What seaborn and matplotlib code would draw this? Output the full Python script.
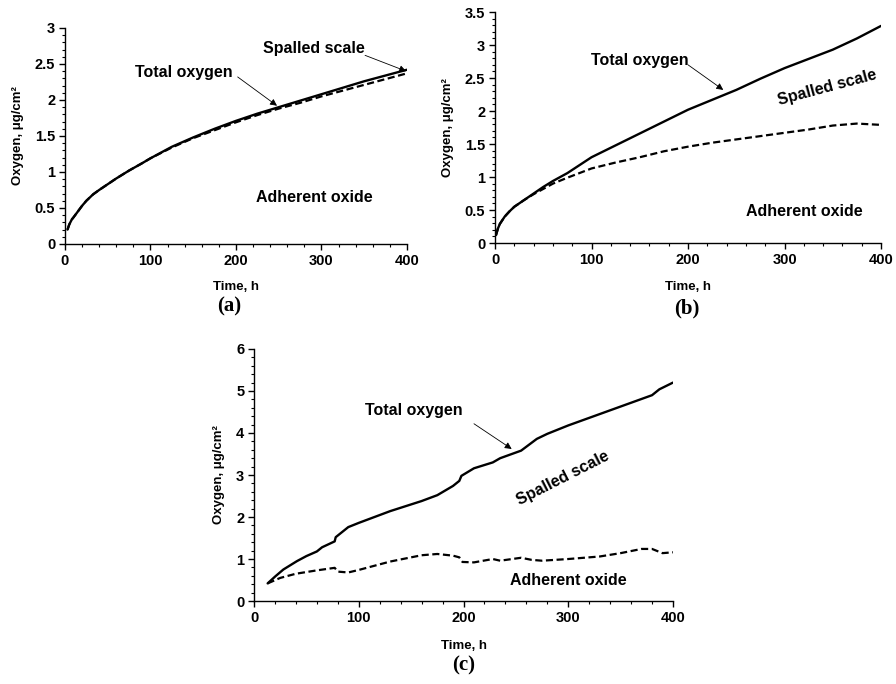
import matplotlib
matplotlib.use("Agg")
import matplotlib.pyplot as plt
import seaborn as sns
import pandas as pd
from matplotlib.ticker import MultipleLocator

sns.set_theme(style="ticks")
plt.rcParams['font.family'] = ['Liberation Sans', 'DejaVu Sans']
plt.rcParams['font.weight'] = 'bold'
plt.rcParams['text.color'] = 'black'
plt.rcParams['axes.labelcolor'] = 'black'
plt.rcParams['xtick.color'] = 'black'
plt.rcParams['ytick.color'] = 'black'

# ---- panel (a) ----
a_time = [3, 5, 8, 10, 15, 20, 25, 33, 40, 50, 60, 75, 90, 100, 125, 150, 175, 200, 225, 250, 275, 300, 325, 350, 375, 400]
a_total = [0.20, 0.27, 0.34, 0.37, 0.45, 0.53, 0.60, 0.69, 0.75, 0.83, 0.91, 1.02, 1.12, 1.19, 1.35, 1.48, 1.60, 1.71, 1.81, 1.90, 1.99, 2.08, 2.17, 2.26, 2.34, 2.42]
a_adherent = [0.20, 0.27, 0.34, 0.37, 0.45, 0.53, 0.60, 0.69, 0.75, 0.83, 0.91, 1.02, 1.12, 1.19, 1.34, 1.47, 1.58, 1.69, 1.79, 1.88, 1.96, 2.05, 2.13, 2.21, 2.29, 2.37]

# ---- panel (b) ----
b_time = [1, 3, 5, 10, 15, 20, 30, 40, 50, 60, 75, 100, 125, 150, 175, 200, 225, 250, 275, 300, 325, 350, 375, 400]
b_total = [0.12, 0.22, 0.29, 0.40, 0.48, 0.55, 0.65, 0.75, 0.85, 0.94, 1.06, 1.30, 1.48, 1.66, 1.84, 2.02, 2.17, 2.32, 2.49, 2.65, 2.79, 2.93, 3.10, 3.29]
b_adherent = [0.12, 0.22, 0.29, 0.40, 0.48, 0.55, 0.65, 0.74, 0.82, 0.90, 0.99, 1.13, 1.22, 1.30, 1.39, 1.46, 1.52, 1.57, 1.62, 1.67, 1.72, 1.78, 1.81, 1.79]

# ---- panel (c) ----
c_time_total = [13, 20, 28, 41, 50, 60, 65, 77, 78, 90, 100, 130, 160, 175, 190, 196, 198, 210, 228, 235, 255, 270, 280, 300, 340, 380, 387, 400]
c_total = [0.42, 0.58, 0.75, 0.95, 1.07, 1.18, 1.28, 1.42, 1.52, 1.76, 1.86, 2.14, 2.38, 2.52, 2.74, 2.86, 2.98, 3.16, 3.30, 3.40, 3.58, 3.86, 3.98, 4.18, 4.54, 4.90, 5.04, 5.20]
c_time_adh = [13, 25, 40, 60, 77, 80, 90, 100, 130, 160, 175, 190, 196, 199, 210, 228, 235, 255, 265, 275, 300, 330, 350, 370, 380, 390, 400]
c_adherent = [0.42, 0.55, 0.65, 0.73, 0.79, 0.70, 0.68, 0.74, 0.94, 1.09, 1.12, 1.08, 1.04, 0.93, 0.92, 1.00, 0.96, 1.03, 0.98, 0.96, 1.00, 1.06, 1.14, 1.24, 1.24, 1.14, 1.16]

panel_labels = ["(a)", "(b)", "(c)"]
x_label = "Time, h"
y_label = "Oxygen, μg/cm²"

fig = plt.figure(figsize=(8.96, 6.84), dpi=100)
ax_a = fig.add_axes([0.0725, 0.6433, 0.3817, 0.3158])
ax_b = fig.add_axes([0.5525, 0.6447, 0.4308, 0.3377])
ax_c = fig.add_axes([0.2835, 0.1213, 0.4676, 0.3685])

def draw(ax, t_tot, tot, t_adh, adh, xpad):
    df1 = pd.DataFrame({"t": t_tot, "v": tot})
    df2 = pd.DataFrame({"t": t_adh, "v": adh})
    sns.lineplot(data=df2, x="t", y="v", ax=ax, color="black", lw=1.6,
                 linestyle=(0, (3.2, 1.6)))
    sns.lineplot(data=df1, x="t", y="v", ax=ax, color="black", lw=1.7)
    sns.despine(ax=ax)
    for s in ["left", "bottom"]:
        ax.spines[s].set_color("black")
        ax.spines[s].set_linewidth(1.0)
    ax.set_xlim(0, 400)
    ax.xaxis.set_major_locator(MultipleLocator(100))
    ax.xaxis.set_minor_locator(MultipleLocator(20))
    ax.tick_params(which="major", direction="out", length=4, width=1, colors="black",
                   labelsize=10.5, pad=3)
    ax.tick_params(which="minor", direction="out", length=2.5, width=0.8, colors="black")
    for lbl in ax.get_xticklabels() + ax.get_yticklabels():
        lbl.set_fontweight("bold")
    ax.set_xlabel(x_label, fontsize=9.5, fontweight="bold", labelpad=xpad)
    ax.set_ylabel(y_label, fontsize=9.5, fontweight="bold", labelpad=8)
    ax.set_facecolor("white")

arrow = dict(arrowstyle="-|>", color="black", lw=0.6, mutation_scale=10, shrinkA=0, shrinkB=0)
tfs = 11.5

# (a)
draw(ax_a, a_time, a_total, a_time, a_adherent, 9.5)
ax_a.set_ylim(0, 3)
ax_a.yaxis.set_minor_locator(MultipleLocator(0.1))
ax_a.set_yticks([0, 0.5, 1, 1.5, 2, 2.5, 3], ["0", "0.5", "1", "1.5", "2", "2.5", "3"], fontweight="bold")
ax_a.text(139, 2.375, "Total oxygen", ha="center", va="center", fontsize=tfs, fontweight="bold")
ax_a.annotate("", xy=(248, 1.92), xytext=(202, 2.32), arrowprops=arrow)
ax_a.text(291, 2.72, "Spalled scale", ha="center", va="center", fontsize=tfs, fontweight="bold")
ax_a.annotate("", xy=(399, 2.40), xytext=(351, 2.62), arrowprops=arrow)
ax_a.text(292, 0.64, "Adherent oxide", ha="center", va="center", fontsize=tfs, fontweight="bold")

# (b)
draw(ax_b, b_time, b_total, b_time, b_adherent, 10)
ax_b.set_ylim(0, 3.5)
ax_b.yaxis.set_minor_locator(MultipleLocator(0.1))
ax_b.set_yticks([0, 0.5, 1, 1.5, 2, 2.5, 3, 3.5], ["0", "0.5", "1", "1.5", "2", "2.5", "3", "3.5"], fontweight="bold")
ax_b.text(150, 2.76, "Total oxygen", ha="center", va="center", fontsize=tfs, fontweight="bold")
ax_b.annotate("", xy=(236.5, 2.32), xytext=(200, 2.70), arrowprops=arrow)
ax_b.text(344, 2.36, "Spalled scale", ha="center", va="center", fontsize=tfs, fontweight="bold",
          rotation=15, rotation_mode="anchor")
ax_b.text(320, 0.48, "Adherent oxide", ha="center", va="center", fontsize=tfs, fontweight="bold")

# (c)
draw(ax_c, c_time_total, c_total, c_time_adh, c_adherent, 11)
ax_c.set_ylim(0, 6)
ax_c.yaxis.set_minor_locator(MultipleLocator(0.2))
ax_c.set_yticks([0, 1, 2, 3, 4, 5, 6], ["0", "1", "2", "3", "4", "5", "6"], fontweight="bold")
ax_c.text(153, 4.54, "Total oxygen", ha="center", va="center", fontsize=tfs, fontweight="bold")
ax_c.annotate("", xy=(246, 3.62), xytext=(210, 4.22), arrowprops=arrow)
ax_c.text(295, 2.93, "Spalled scale", ha="center", va="center", fontsize=tfs, fontweight="bold",
          rotation=27, rotation_mode="anchor")
ax_c.text(300, 0.50, "Adherent oxide", ha="center", va="center", fontsize=tfs, fontweight="bold")

serif = ['Liberation Serif', 'DejaVu Serif']
fig.text(229 / 896, 1 - 306 / 684, panel_labels[0], ha="center", va="center", fontsize=15,
         fontweight="bold", family=serif)
fig.text(687 / 896, 1 - 308 / 684, panel_labels[1], ha="center", va="center", fontsize=15,
         fontweight="bold", family=serif)
fig.text(464 / 896, 1 - 665 / 684, panel_labels[2], ha="center", va="center", fontsize=15,
         fontweight="bold", family=serif)

fig.savefig("out.png", dpi=100, facecolor="white")
